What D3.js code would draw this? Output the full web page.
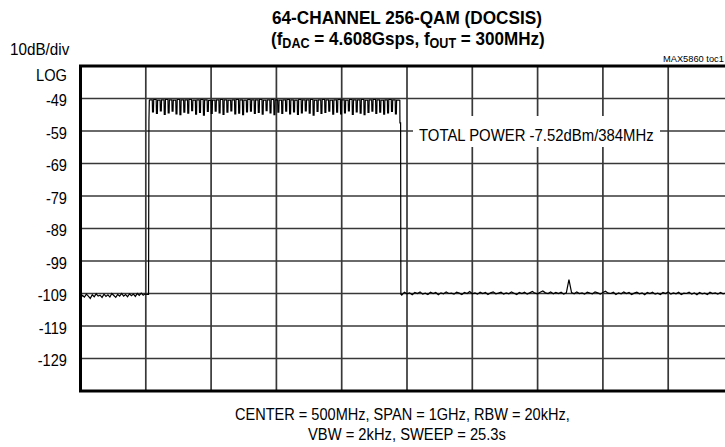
<!DOCTYPE html>
<html>
<head>
<meta charset="utf-8">
<script src="https://cdn.jsdelivr.net/npm/d3@7"></script>
<style>
  html, body { margin: 0; padding: 0; background: #ffffff; }
  svg { display: block; }
</style>
</head>
<body>
<svg id="chart" width="725" height="447"></svg>
<script>
// ---------------- DATA ----------------
const yTickValues = [-49, -59, -69, -79, -89, -99, -109, -119, -129];
const yTickLabels = ["-49", "-59", "-69", "-79", "-89", "-99", "-109", "-119", "-129"];
const xGridMHz = [0, 100, 200, 300, 400, 500, 600, 700, 800, 900, 1000];

// left noise floor: 0..102 MHz, step 3 MHz (dBm)
const leftNoiseStart = 0, leftNoiseStep = 3;
const leftNoise = [-110.4,-109.6,-110.1,-109.2,-109.8,-110.5,-109.4,-110.0,-109.1,-109.8,
  -109.5,-110.2,-109.2,-109.9,-109.4,-110.1,-109.0,-109.6,-110.2,-109.3,
  -109.8,-109.0,-109.8,-109.3,-110.0,-109.1,-109.7,-109.2,-109.9,-109.0,
  -109.6,-108.9,-109.5,-109.1,-109.3];

// 64 channels of 6 MHz starting at 105 MHz: flat top level of each channel
const channelStart = 105, channelWidth = 6;
const channelTop = [-49.4,-49.3,-49.5,-49.4,-49.3,-49.4,-49.5,-49.3,-49.4,-49.4,
  -49.3,-49.5,-49.4,-49.3,-49.4,-49.6,-49.5,-49.4,-49.3,-49.4,
  -49.5,-49.4,-49.3,-49.4,-49.5,-49.3,-49.4,-49.4,-49.3,-49.5,
  -49.4,-49.3,-49.4,-49.5,-49.4,-49.3,-49.4,-49.5,-49.3,-49.4,
  -49.4,-49.3,-49.5,-49.4,-49.3,-49.4,-49.5,-49.4,-49.3,-49.4,
  -49.5,-49.3,-49.4,-49.4,-49.3,-49.5,-49.4,-49.3,-49.4,-49.5,
  -49.4,-49.3,-49.4,-49.5];
// notch depth between adjacent channels (63 boundaries)
const channelDip = [-53.1,-53.6,-52.8,-53.9,-53.4,-52.9,-53.7,-54.0,-53.2,-53.5,
  -52.7,-53.8,-53.3,-54.1,-53.0,-53.6,-52.9,-53.4,-53.9,-53.2,
  -52.8,-53.7,-53.5,-54.0,-53.1,-52.9,-53.6,-53.3,-53.8,-52.7,
  -53.4,-54.0,-53.2,-53.6,-52.9,-53.7,-53.1,-53.9,-53.4,-52.8,
  -53.5,-54.1,-53.0,-53.6,-53.3,-52.9,-53.8,-53.2,-53.7,-53.4,
  -52.8,-53.9,-53.1,-53.5,-54.0,-53.3,-52.9,-53.6,-53.2,-53.8,
  -53.4,-53.0,-53.7];
// band edges
const riseEdge = [[104.2, -109.3], [104.8, -56.0], [105.4, -49.6]];
const fallEdge = [[489.0, -49.6], [489.2, -56.5], [490.2, -56.5], [490.6, -109.2]];

// right noise floor: 492..1000 MHz, step 4 MHz
const rightNoiseStart = 492, rightNoiseStep = 4;
const rightNoise = [-109.5,-108.6,-109.1,-108.8,-109.4,-108.7,-109.0,-108.5,-109.2,-108.9,
  -109.3,-108.6,-109.0,-108.7,-109.4,-108.8,-109.1,-108.5,-109.0,-108.9,
  -109.2,-108.6,-108.9,-109.3,-108.7,-109.0,-108.4,-109.1,-108.8,-109.2,
  -108.6,-109.0,-108.7,-109.3,-108.8,-108.5,-109.1,-108.9,-108.6,-109.2,
  -108.8,-109.1,-108.5,-108.9,-109.3,-108.7,-109.0,-108.6,-109.2,-108.8,
  -108.4,-108.9,-109.1,-108.6,-108.2,-108.8,-109.0,-108.5,-109.1,-108.7,
  -109.0,-108.6,-109.2,-108.8,-104.7,-108.7,-109.1,-108.5,-109.0,-108.8,
  -109.2,-108.6,-108.9,-109.1,-108.5,-108.8,-109.2,-108.7,-108.3,-108.9,
  -109.0,-108.6,-109.3,-108.8,-109.1,-108.5,-109.0,-108.7,-109.3,-108.9,
  -108.6,-109.1,-108.8,-109.4,-108.7,-109.0,-108.6,-109.2,-108.9,-109.3,
  -108.7,-109.0,-108.5,-109.2,-108.8,-109.1,-108.6,-109.3,-108.9,-109.0,
  -108.6,-109.2,-108.8,-109.4,-108.7,-109.1,-108.9,-109.3,-108.6,-109.0,
  -108.8,-109.2,-108.7,-109.1,-108.9,-109.3,-108.8,-109.0];

// ---------------- BUILD TRACE ----------------
const trace = [];
leftNoise.forEach((v, i) => trace.push([leftNoiseStart + i * leftNoiseStep, v]));
riseEdge.forEach(p => trace.push(p));
channelTop.forEach((top, i) => {
  const s = channelStart + i * channelWidth, e = s + channelWidth;
  trace.push([s + 1.1, top]);
  trace.push([e - 1.1, top]);
  if (i < channelDip.length) {
    trace.push([e - 0.7, channelDip[i]]);
    trace.push([e + 0.7, channelDip[i]]);
  }
});
fallEdge.forEach(p => trace.push(p));
rightNoise.forEach((v, i) => trace.push([rightNoiseStart + i * rightNoiseStep, v]));

// ---------------- DRAW ----------------
const svg = d3.select("#chart");
const L = 80.5, R = 733.5, T = 66, B = 391;
const x = d3.scaleLinear().domain([0, 1000]).range([L, R]);
const y = d3.scaleLinear().domain([-39, -139]).range([T, B]);
const font = "'Liberation Sans', Arial, sans-serif";

// fit a text element horizontally into [left, left+width], baseline at by
function fit(sel, left, width, by) {
  const w = sel.node().getBBox().width;
  sel.attr("x", 0).attr("y", 0).attr("text-anchor", "start")
    .attr("transform", `translate(${left},${by}) scale(${width / w},1)`);
  return sel;
}
function txt(str, size, weight) {
  return svg.append("text").attr("font-family", font).attr("font-size", size)
    .attr("font-weight", weight || "normal").attr("fill", "#000").text(str);
}

// grid
const g = svg.append("g");
g.selectAll("line.v").data(xGridMHz.slice(1, -1)).join("line")
  .attr("x1", d => x(d)).attr("x2", d => x(d)).attr("y1", T).attr("y2", B)
  .attr("stroke", "#383838").attr("stroke-width", 1.7);
g.selectAll("line.h").data(yTickValues).join("line")
  .attr("x1", L).attr("x2", R).attr("y1", d => y(d)).attr("y2", d => y(d))
  .attr("stroke", "#383838").attr("stroke-width", 1.7);

// trace
const line = d3.line().x(d => x(d[0])).y(d => y(d[1]));
svg.append("path").datum(trace).attr("d", line)
  .attr("fill", "none").attr("stroke", "#000").attr("stroke-width", 1.2)
  .attr("stroke-linejoin", "miter");

// annotation box
svg.append("rect").attr("x", 413).attr("y", 116).attr("width", 247).attr("height", 31)
  .attr("fill", "#fff");
fit(txt("TOTAL POWER -7.52dBm/384MHz", 17), 419, 235, 141);

// frame
svg.append("rect").attr("x", L).attr("y", T).attr("width", R - L).attr("height", B - T)
  .attr("fill", "none").attr("stroke", "#000").attr("stroke-width", 3);

// y labels (axis without domain/ticks)
const yAxis = d3.axisLeft(y).tickValues(yTickValues).tickSize(0).tickPadding(0)
  .tickFormat((d, i) => yTickLabels[i]);
const ya = svg.append("g").attr("transform", "translate(67,0)").call(yAxis);
ya.select(".domain").remove();
ya.selectAll("text").attr("font-family", font).attr("font-size", 17).attr("fill", "#000")
  .attr("dy", "0.4em").attr("transform", "scale(0.86,1)").attr("x", 0);
ya.selectAll(".tick").attr("transform", d => `translate(0,${y(d) + 1})`);

fit(txt("LOG", 17), 36, 31, 80.5);
fit(txt("10dB/div", 16.5), 10, 60, 55);
fit(txt("MAX5860 toc1", 9.5), 663, 61, 62);

// title
fit(txt("64-CHANNEL 256-QAM (DOCSIS)", 19, "bold"), 272, 270, 24);
const t2 = txt("", 19, "bold");
t2.append("tspan").text("(f");
t2.append("tspan").attr("font-size", 14).attr("dy", 3).text("DAC");
t2.append("tspan").attr("dy", -3).text(" = 4.608Gsps, f");
t2.append("tspan").attr("font-size", 14).attr("dy", 3).text("OUT");
t2.append("tspan").attr("dy", -3).text(" = 300MHz)");
fit(t2, 271, 274, 45);

// footer
fit(txt("CENTER = 500MHz, SPAN = 1GHz, RBW = 20kHz,", 17), 235, 335, 420);
fit(txt("VBW = 2kHz, SWEEP = 25.3s", 17), 308, 198, 440);
</script>
</body>
</html>
